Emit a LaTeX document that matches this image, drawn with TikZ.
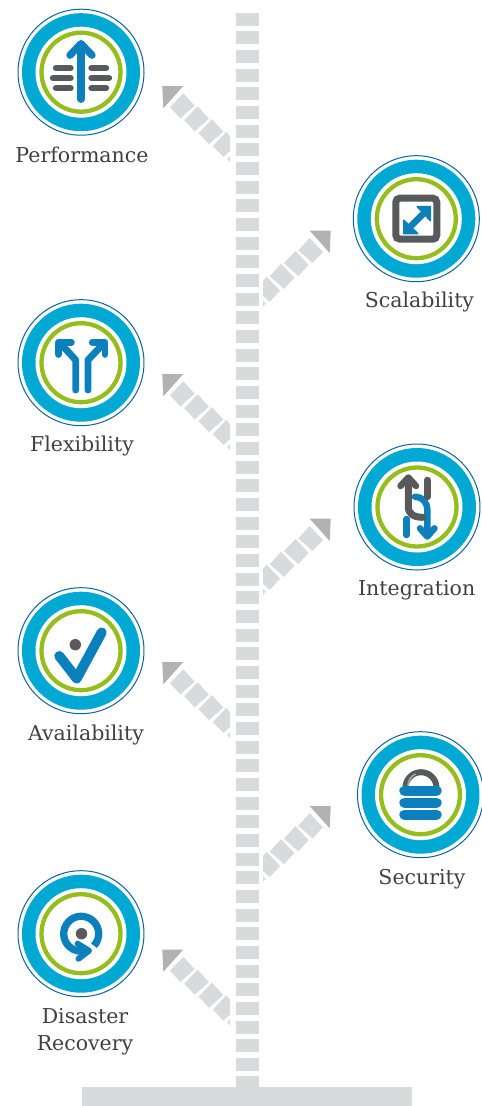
\documentclass[tikz,border=0pt]{standalone}
\usepackage{fontspec}
\setmainfont{DejaVu Serif}
\definecolor{stemgrey}{HTML}{D9DADB}
\definecolor{headgrey}{HTML}{B1B2B3}
\definecolor{ringcyan}{HTML}{00A9D3}
\definecolor{ringblue}{HTML}{0B62A3}
\definecolor{ringgreen}{HTML}{95BD1C}
\definecolor{iconblue}{HTML}{0B80BC}
\definecolor{icongrey}{HTML}{58595B}
\definecolor{shine}{HTML}{A9AAAB}
\definecolor{labelink}{HTML}{404040}
\newcommand{\badge}[2]{%
  \begin{scope}[shift={(#1,#2)}]
    \draw[ringblue,line width=1pt] (0,0) circle[radius=63];
    \fill[ringcyan] (0,0) circle[radius=59];
    \fill[white] (0,0) circle[radius=45.5];
    \draw[ringgreen,line width=4.3pt] (0,0) circle[radius=39.5];
  \end{scope}}
\newcommand{\band}[3]{%
  \begin{scope}[shift={(#1,#2)},xscale=#3]
    \clip (150,70) rectangle (230,175);
    \fill[headgrey] (162.3,86) -- (183.3,86) -- (163.3,108.3) -- cycle;
    \foreach \i in {0,...,4}{
      \fill[stemgrey,shift={(14.3*\i,12.9*\i)}] (183.3,93.3) -- (194.7,105.7) -- (180.4,118.3) -- (170,107.3) -- cycle;
    }
  \end{scope}}
\tikzset{
  lab/.style={anchor=base,inner sep=0pt,text=labelink,font=\fontsize{20.5}{20.5}\selectfont},
  bl/.style={iconblue,line cap=round,line join=round},
  gr/.style={icongrey,line cap=round,line join=round}
}
\begin{document}
\begin{tikzpicture}[x=1pt,y=-1pt]
\useasboundingbox (0,0) rectangle (482,1106);
% stem
\foreach \k in {0,...,57}{
  \fill[stemgrey] (235.7,12.5+18.667*\k) rectangle (259.4,25.6+18.667*\k);
}
\fill[stemgrey] (235.7,1076) rectangle (259.4,1090);
\fill[stemgrey] (82,1086.7) rectangle (411.7,1106);
% bands
\band{0}{0}{1}
\band{0}{288}{1}
\band{0}{576}{1}
\band{0}{863.5}{1}
\band{493}{144.7}{-1}
\band{493}{432.7}{-1}
\band{493}{720}{-1}
% badges
\badge{81}{72.2}
\badge{416.3}{218.7}
\badge{81}{362.7}
\badge{417}{507}
\badge{81}{650.7}
\badge{420.5}{794.7}
\badge{81}{933.7}
% Performance icon
\begin{scope}[shift={(81,72.2)}]
  \foreach \y/\o in {-4/28,6/31,16/28}{
    \draw[gr,line width=6.4pt] (-10.5,\y) -- (-\o+3,\y);
    \draw[gr,line width=6.4pt] (10.5,\y) -- (\o-3,\y);
  }
  \draw[bl,line width=7.3pt] (0,27) -- (0,-28);
  \draw[bl,line width=7.3pt] (-11,-17) -- (0,-28.5) -- (11,-17);
\end{scope}
% Scalability icon
\begin{scope}[shift={(416.3,218.7)}]
  \draw[icongrey,line width=7pt,rounded corners=4pt] (-20.5,-20.5) rectangle (20.5,20.5);
  \draw[bl,line width=6.4pt] (-8,10) -- (9,-7);
  \fill[bl,draw=iconblue,line width=1.5pt] (1,-12) -- (14,-12) -- (14,2) -- cycle;
  \fill[bl,draw=iconblue,line width=1.5pt] (-12.5,1.5) -- (-12.5,15) -- (1.5,15) -- cycle;
\end{scope}
% Flexibility icon
\begin{scope}[shift={(81,362.7)}]
  \draw[bl,line width=6.9pt] (-5.3,27.3) -- (-5.3,-2.7) -- (-19.7,-18.3);
  \draw[bl,line width=6.9pt] (7,27.3) -- (7,-2.7) -- (21.7,-18.3);
  \draw[bl,line width=6.9pt] (-22.3,-8.3) -- (-22.3,-20.3) -- (-9.7,-20.3);
  \draw[bl,line width=6.9pt] (24,-8.3) -- (24,-20.3) -- (11.3,-20.3);
\end{scope}
% Integration icon
\begin{scope}[shift={(417,507)}]
  \draw[bl,line width=6.5pt] (-10.3,12) -- (-10.3,28);
  \draw[bl,line width=6.5pt] (-2,-10.3) .. controls (5,-10.3) and (10.3,-5) .. (10.3,3) -- (10.3,28);
  \draw[bl,line width=6.5pt] (3,21.3) -- (10.3,29.5) -- (17.5,21.3);
  \draw[gr,line width=6.5pt] (10.3,-27) -- (10.3,-10);
  \draw[gr,line width=7pt] (-8.7,-28) -- (-8.7,-0.3) .. controls (-8.7,7) and (-3,10.3) .. (5.7,10.3);
  \draw[gr,line width=6.5pt] (-16.5,-21) -- (-8.7,-29.5) -- (-1,-21);
\end{scope}
% Availability icon
\begin{scope}[shift={(81,650.7)}]
  \draw[bl,line width=10pt] (-21.7,5.3) -- (-4.3,27.7) -- (20.7,-18.3);
  \fill[icongrey] (-5.7,-6) circle[radius=5.7];
\end{scope}
% Security icon
\begin{scope}[shift={(420.5,794.7)}]
  \draw[icongrey,line width=6pt] (-15,-7) arc[start angle=180,end angle=360,radius=15.5];
  \draw[shine,line width=1.5pt] (-12.5,-9) arc[start angle=180,end angle=245,radius=13];
  \foreach \y in {-4,8,20}{
    \draw[bl,line width=10.4pt] (-16,\y) -- (16,\y);
  }
\end{scope}
% Disaster Recovery icon
\begin{scope}[shift={(81,933.7)}]
  \draw[bl,line width=7.3pt,line cap=butt] (13,12) arc[start angle=43,end angle=-290,radius=17.5];
  \draw[bl,line width=6pt] (-3.5,10) -- (8,17) -- (-2.5,25);
  \fill[icongrey] (0.5,0) circle[radius=5.7];
\end{scope}
% labels
\node[lab] (perf) at (82,162.7) {Performance};
\node[lab] (scal) at (419.5,307.7) {Scalability};
\node[lab] (flex) at (82,451.7) {Flexibility};
\node[lab] (inte) at (416.7,595.7) {Integration};
\node[lab] (avai) at (86,740) {Availability};
\node[lab] (secu) at (422,884.3) {Security};
\node[lab] (disa) at (85,1023) {Disaster};
\node[lab] (reco) at (85,1050) {Recovery};
\end{tikzpicture}
\end{document}
